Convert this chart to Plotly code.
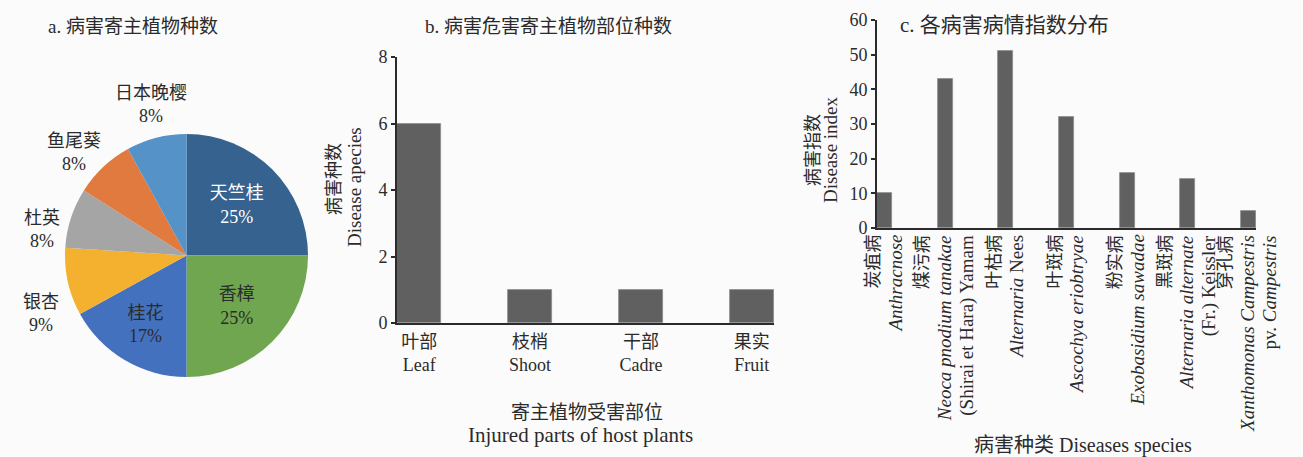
import plotly.graph_objects as go

# ---- data ----
host_plants = ["天竺桂", "香樟", "桂花", "银杏", "杜英", "鱼尾葵", "日本晚樱"]
host_share = [25, 25, 17, 9, 8, 8, 8]  # percent

parts_cn = ["叶部", "枝梢", "干部", "果实"]
parts_en = ["Leaf", "Shoot", "Cadre", "Fruit"]
parts_count = [6, 1, 1, 1]

disease_cn = ["炭疽病", "煤污病", "叶枯病", "叶斑病", "粉实病", "黑斑病", "穿孔病"]
disease_latin = [
    ["<i>Anthracnose</i>"],
    ["<i>Neoca pnodium tanakae</i>", "(Shirai et Hara) Yamam"],
    ["<i>Alternaria</i> Nees"],
    ["<i>Ascochya eriobtryae</i>"],
    ["<i>Exobasidium sawadae</i>"],
    ["<i>Alternaria alternate</i>", "(Fr.) Keissler"],
    ["<i>Xanthomonas Campestris</i>", "pv. <i>Campestris</i>"],
]
disease_index = [10, 43, 51, 32, 16, 14, 5]

# ---- styling ----
W, H = 1303, 457
FONT = "Liberation Serif, Noto Sans CJK SC, serif"
INK = "#2b2b2b"
BAR = "#606060"
pie_colors = ["#35628f", "#70a64f", "#4471bd", "#f4b130", "#a5a5a5", "#e07a3f", "#5592c8"]
pie_text_colors = ["#ffffff", INK, INK, INK, INK, INK, INK]
# large slices carry their label inside; small ones get a label placed beside the pie
pie_inside = [True, True, True, False, False, False, False]
pie_outside_pos = {3: (41, 313), 4: (42, 230), 5: (74, 152), 6: (151, 104)}


def px_x(p):
    return p / W


def px_y(p):
    return 1 - p / H


fig = go.Figure()

# a. host plant share pie
fig.add_trace(go.Pie(
    labels=host_plants,
    values=host_share,
    sort=False,
    direction="clockwise",
    rotation=0,
    marker=dict(colors=pie_colors, line=dict(width=0)),
    texttemplate="%{label}<br>%{value}%",
    textposition=["inside" if f else "none" for f in pie_inside],
    textfont=dict(family=FONT, size=18, color=pie_text_colors),
    insidetextorientation="horizontal",
    domain=dict(x=[px_x(65), px_x(308)], y=[px_y(377), px_y(134)]),
    showlegend=False,
    hoverinfo="label+value",
))

# b. injured parts bar chart
fig.add_trace(go.Bar(
    x=list(range(len(parts_count))),
    y=parts_count,
    width=0.4,
    marker=dict(color=BAR, line=dict(color="#8c8c8c", width=0.8)),
    xaxis="x", yaxis="y",
    showlegend=False,
))

# c. disease index bar chart
fig.add_trace(go.Bar(
    x=list(range(len(disease_index))),
    y=disease_index,
    width=0.25,
    marker=dict(color=BAR, line=dict(color="#8c8c8c", width=0.8)),
    xaxis="x2", yaxis="y2",
    showlegend=False,
))

axis_common = dict(
    showline=True, linecolor=INK, linewidth=2,
    showgrid=False, zeroline=False, automargin=False,
    tickfont=dict(family=FONT, size=18, color=INK),
)

C_X0, C_X1 = 877, 1256  # panel c plot area, px
C_LO, C_HI = -0.125, len(disease_index) - 1 + 0.125

fig.update_layout(
    template="none",
    width=W, height=H,
    margin=dict(l=0, r=0, t=0, b=0, pad=0, autoexpand=False),
    paper_bgcolor="#fbfbfb",
    plot_bgcolor="#fbfbfb",
    font=dict(family=FONT, color=INK),
    bargap=0,
    xaxis=dict(
        domain=[px_x(397), px_x(774)],
        range=[-0.2, len(parts_count) - 1 + 0.2],
        tickmode="array",
        tickvals=list(range(len(parts_count))),
        ticktext=[f"{c}<br>{e}" for c, e in zip(parts_cn, parts_en)],
        ticks="",
        ticklabelstandoff=1,
        anchor="y",
        **axis_common,
    ),
    yaxis=dict(
        domain=[px_y(323), px_y(57)],
        range=[0, 8],
        dtick=2,
        ticks="outside", ticklen=4, tickcolor=INK, tickwidth=1.5,
        anchor="x",
        **axis_common,
    ),
    xaxis2=dict(
        domain=[px_x(C_X0), px_x(C_X1)],
        range=[C_LO, C_HI],
        showticklabels=False,
        ticks="",
        anchor="y2",
        **axis_common,
    ),
    yaxis2=dict(
        domain=[px_y(228), px_y(20)],
        range=[0, 60],
        dtick=10,
        ticks="outside", ticklen=4, tickcolor=INK, tickwidth=1.5,
        anchor="x2",
        **axis_common,
    ),
)


def font(size):
    return dict(family=FONT, size=size, color=INK)


annotations = [
    # panel titles
    dict(text="a. 病害寄主植物种数", x=px_x(133), y=px_y(26), font=font(19)),
    dict(text="b. 病害危害寄主植物部位种数", x=px_x(548), y=px_y(26), font=font(19)),
    dict(text="c. 各病害病情指数分布", x=px_x(1004), y=px_y(25), font=font(21)),
    # axis titles
    dict(text="病害种数", x=px_x(334), y=px_y(179), textangle=-90, font=font(18)),
    dict(text="Disease apecies", x=px_x(354), y=px_y(187), textangle=-90, font=font(19)),
    dict(text="寄主植物受害部位", x=px_x(587), y=px_y(412), font=font(19)),
    dict(text="Injured parts of host plants", x=px_x(580), y=px_y(435), font=font(21)),
    dict(text="病害指数", x=px_x(813), y=px_y(150), textangle=-90, font=font(18)),
    dict(text="Disease index", x=px_x(831), y=px_y(150), textangle=-90, font=font(19)),
    dict(text="病害种类 Diseases species", x=px_x(1083), y=px_y(445), font=font(20)),
]

# labels for the small pie slices
for i, (lx, ly) in pie_outside_pos.items():
    annotations.append(dict(text=f"{host_plants[i]}<br>{host_share[i]}%",
                            x=px_x(lx), y=px_y(ly), font=font(18)))

# rotated category labels under panel c: one column per line, tops aligned
col_gap = 22
for i, (cn, latin) in enumerate(zip(disease_cn, disease_latin)):
    center = C_X0 + (i - C_LO) / (C_HI - C_LO) * (C_X1 - C_X0) - 1
    lines = [(cn, 18)] + [(t, 19) for t in latin]
    n = len(lines)
    for k, (txt, sz) in enumerate(lines):
        cx = center + (k - (n - 1) / 2) * col_gap
        annotations.append(dict(text=txt, x=px_x(cx), y=px_y(233), textangle=-90,
                                yanchor="top", font=font(sz)))

for a in annotations:
    a.setdefault("xanchor", "center")
    a.setdefault("yanchor", "middle")
    a.update(xref="paper", yref="paper", showarrow=False)
fig.update_layout(annotations=annotations)

fig.write_html("out.html")
